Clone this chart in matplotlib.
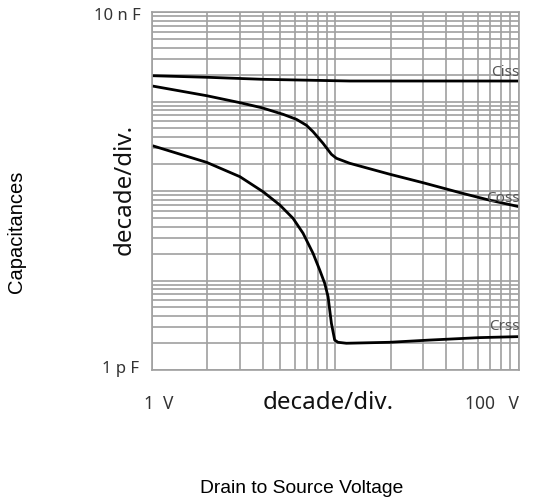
import numpy as np
import matplotlib
matplotlib.use('Agg')
import matplotlib.pyplot as plt

# capacitance curves (V, pF)
cissV = [1.0, 2.0, 4.0, 12.0, 30.0, 100.0]
cissC = [1942, 1864, 1770, 1694, 1694, 1694]

cossV = [1.0, 1.98, 3.01, 3.95, 5.18, 6.13, 6.95, 7.55, 8.56, 9.51, 10.13, 11.97,
         19.8, 30.0, 49.6, 69.4, 100.0]
cossC = [1490, 1161, 970, 853, 719, 632, 542, 460, 341, 257, 232, 204,
         154, 124, 94, 79, 67]

crssV = [1.0, 1.98, 3.01, 4.03, 4.97, 5.87, 6.66, 7.55, 8.21, 8.74, 9.12, 9.31,
         9.51, 9.91, 10.33, 11.48, 19.8, 32.7, 61.2, 100.0]
crssC = [321, 209, 144.5, 98, 69.8, 49.5, 33.7, 20.1, 13.1, 9.31, 6.59, 4.68,
         3.32, 2.16, 2.04, 1.99, 2.04, 2.16, 2.30, 2.36]

curveNames = ['Ciss', 'Coss', 'Crss']
xRange = [1, 100]
yRange = [1, 10000]
yTickText = ['10 n F', '1 p F']
xTickText = ['1  V', '100   V']

W, H = 535, 498
fig = plt.figure(figsize=(W / 100, H / 100), dpi=100)
ax = fig.add_axes([152.3 / W, 1 - 370 / H, (518.5 - 152.3) / W, (370 - 12) / H])
ax.set_xscale('log')
ax.set_yscale('log')
ax.set_xlim(xRange)
ax.set_ylim(yRange)
ax.grid(True, which='both', color='#a0a0a0', linewidth=1.2)
ax.tick_params(which='both', length=0, labelbottom=False, labelleft=False)
for s in ax.spines.values():
    s.set_color('#a0a0a0')
    s.set_linewidth(1.2)

lw = 2.0
ax.plot(cissV, cissC, color='black', linewidth=lw, solid_capstyle='butt')
ax.plot(cossV, cossC, color='black', linewidth=lw, solid_capstyle='butt')
ax.plot(crssV, crssC, color='black', linewidth=lw, solid_capstyle='butt')

labelFont = 'Noto Sans'
lblY = [72, 198, 327]
for name, y in zip(curveNames, lblY):
    fig.text(520 / W, 1 - y / H, name, ha='right', va='center', fontsize=11,
             color='#555555', family=labelFont)

fig.text(141 / W, 1 - 16 / H, yTickText[0], ha='right', va='center', fontsize=12,
         color='#333333', family=labelFont)
fig.text(139 / W, 1 - 369 / H, yTickText[1], ha='right', va='center', fontsize=12,
         color='#333333', family=labelFont)
fig.text(159 / W, 1 - 404 / H, xTickText[0], ha='center', va='center', fontsize=12.5,
         color='#333333', family=labelFont)
fig.text(492 / W, 1 - 404 / H, xTickText[1], ha='center', va='center', fontsize=12.5,
         color='#333333', family=labelFont)

fig.text(328 / W, 1 - 403 / H, 'decade/div.', ha='center', va='center', fontsize=17.3,
         color='#111111', family=labelFont)
fig.text(125 / W, 1 - 189 / H, 'decade/div.', ha='center', va='center', fontsize=17.3,
         color='#111111', family=labelFont, rotation=90)

fig.text(17 / W, 1 - 232 / H, 'Capacitances', ha='center', va='center', fontsize=14.5,
         family='Liberation Sans', rotation=90)
fig.text(302 / W, 1 - 488 / H, 'Drain to Source Voltage', ha='center', va='center',
         fontsize=13.9, family='Liberation Sans')

fig.savefig('out.png', dpi=100)
